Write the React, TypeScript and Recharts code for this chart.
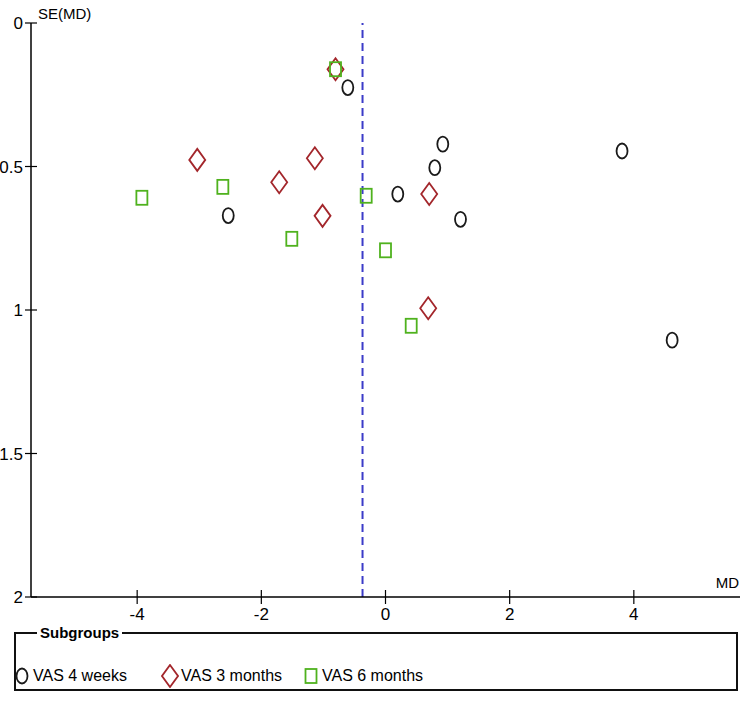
import React from 'react';
import { ScatterChart, Scatter, XAxis, YAxis, ReferenceLine, Legend, Label } from 'recharts';

const weeks4 = [
  { md: -0.607, se: 0.225 },
  { md: 0.923, se: 0.422 },
  { md: 0.794, se: 0.504 },
  { md: 0.198, se: 0.596 },
  { md: 1.208, se: 0.684 },
  { md: -2.533, se: 0.671 },
  { md: 3.81, se: 0.446 },
  { md: 4.617, se: 1.105 },
];

const months3 = [
  { md: -0.805, se: 0.161 },
  { md: -3.032, se: 0.477 },
  { md: -1.138, se: 0.471 },
  { md: -1.712, se: 0.555 },
  { md: -1.014, se: 0.672 },
  { md: 0.704, se: 0.596 },
  { md: 0.688, se: 0.994 },
];

const months6 = [
  { md: -0.805, se: 0.161 },
  { md: -3.924, se: 0.609 },
  { md: -2.62, se: 0.571 },
  { md: -1.509, se: 0.752 },
  { md: -0.311, se: 0.602 },
  { md: 0.0, se: 0.792 },
  { md: 0.414, se: 1.055 },
];

const xTicks = [-4, -2, 0, 2, 4];
const yTicks = [0, 0.5, 1, 1.5, 2];
const pooledMD = -0.37;

const FONT = '"Liberation Sans Narrow", "Arial Narrow", "Liberation Sans", Arial, sans-serif';
const C_CIRCLE = '#1a1a1a';
const C_DIAMOND = '#a3262b';
const C_SQUARE = '#4fb21e';

const CircleMark = ({ cx, cy }: any) => (
  <ellipse cx={cx} cy={cy} rx={5.5} ry={7.5} fill="none" stroke={C_CIRCLE} strokeWidth={1.8} />
);
const DiamondMark = ({ cx, cy }: any) => (
  <path d={`M${cx},${cy - 11} L${cx + 8},${cy} L${cx},${cy + 11} L${cx - 8},${cy} Z`} fill="none" stroke={C_DIAMOND} strokeWidth={1.8} />
);
const SquareMark = ({ cx, cy }: any) => (
  <rect x={cx - 5.5} y={cy - 7} width={11} height={14} fill="none" stroke={C_SQUARE} strokeWidth={1.8} />
);

const XTick = ({ x, y, payload }: any) => (
  <g>
    <line x1={x} x2={x} y1={y - 14} y2={y} stroke="#000" strokeWidth={1.2} />
    <text x={x} y={y + 16} textAnchor="middle" fontSize={17} fontFamily={FONT} fill="#000">
      {payload.value}
    </text>
  </g>
);

const YTick = ({ x, y, payload }: any) => (
  <g>
    <line x1={x + 1} x2={x + 13} y1={y} y2={y} stroke="#000" strokeWidth={1.2} />
    <text x={x - 1} y={y + 6} textAnchor="end" fontSize={17} fontFamily={FONT} fill="#000">
      {payload.value}
    </text>
  </g>
);

// legend entries with their horizontal slot (left edge of the icon)
const legendItems = [
  { label: 'VAS 4 weeks', kind: 'circle', left: 13 },
  { label: 'VAS 3 months', kind: 'diamond', left: 161 },
  { label: 'VAS 6 months', kind: 'square', left: 302 },
];

const LegendIcon = ({ kind }: { kind: string }) => (
  <svg width={18} height={24} style={{ display: 'block' }}>
    {kind === 'circle' && <CircleMark cx={9} cy={12} />}
    {kind === 'diamond' && <DiamondMark cx={9} cy={12} />}
    {kind === 'square' && <SquareMark cx={9} cy={12} />}
  </svg>
);

const SubgroupsLegend = () => (
  <div style={{ position: 'relative', width: 742, height: 77, fontFamily: FONT }}>
    <div
      style={{
        position: 'absolute',
        left: 14,
        top: 8,
        width: 720,
        height: 55,
        border: '2px solid #111',
      }}
    />
    <div
      style={{
        position: 'absolute',
        left: 37,
        top: -1,
        padding: '0 3px',
        background: '#fff',
        fontWeight: 'bold',
        fontSize: 15,
        lineHeight: '20px',
        color: '#000',
      }}
    >
      Subgroups
    </div>
    {legendItems.map((it) => (
      <div key={it.label} style={{ position: 'absolute', left: it.left, top: 40, display: 'flex', alignItems: 'center' }}>
        <LegendIcon kind={it.kind} />
        <span style={{ fontSize: 16, marginLeft: 2, color: '#000' }}>{it.label}</span>
      </div>
    ))}
  </div>
);

export default function App() {
  return (
    <div style={{ position: 'absolute', left: 0, top: 0, width: 742, height: 701, background: '#fff' }}>
      <ScatterChart width={742} height={701} margin={{ top: 23, right: 2, left: 0, bottom: 0 }}>
        <XAxis
          type="number"
          dataKey="md"
          domain={[-5.71, 5.71]}
          ticks={xTicks}
          allowDataOverflow
          height={27}
          tickSize={7}
          tickMargin={0}
          tickLine={false}
          tick={<XTick />}
          axisLine={{ stroke: '#000', strokeWidth: 1.5 }}
        >
          <Label
            content={() => (
              <text x={739} y={588} textAnchor="end" fontSize={15} fontFamily={FONT} fill="#000">
                MD
              </text>
            )}
          />
        </XAxis>
        <YAxis
          type="number"
          dataKey="se"
          domain={[0, 2]}
          ticks={yTicks}
          reversed
          allowDataOverflow
          width={31}
          tickSize={7}
          tickMargin={0}
          tickLine={false}
          tick={<YTick />}
          axisLine={{ stroke: '#000', strokeWidth: 1.5 }}
        >
          <Label
            content={() => (
              <text x={38} y={19} fontSize={15} fontFamily={FONT} fill="#000">
                SE(MD)
              </text>
            )}
          />
        </YAxis>
        <ReferenceLine x={pooledMD} stroke="#3b3bc8" strokeWidth={2} strokeDasharray="8 5" />
        <Scatter name="VAS 4 weeks" data={weeks4} shape={<CircleMark />} isAnimationActive={false} />
        <Scatter name="VAS 3 months" data={months3} shape={<DiamondMark />} isAnimationActive={false} />
        <Scatter name="VAS 6 months" data={months6} shape={<SquareMark />} isAnimationActive={false} />
        <Legend verticalAlign="bottom" wrapperStyle={{ left: 0, width: 742 }} content={() => <SubgroupsLegend />} />
      </ScatterChart>
    </div>
  );
}
